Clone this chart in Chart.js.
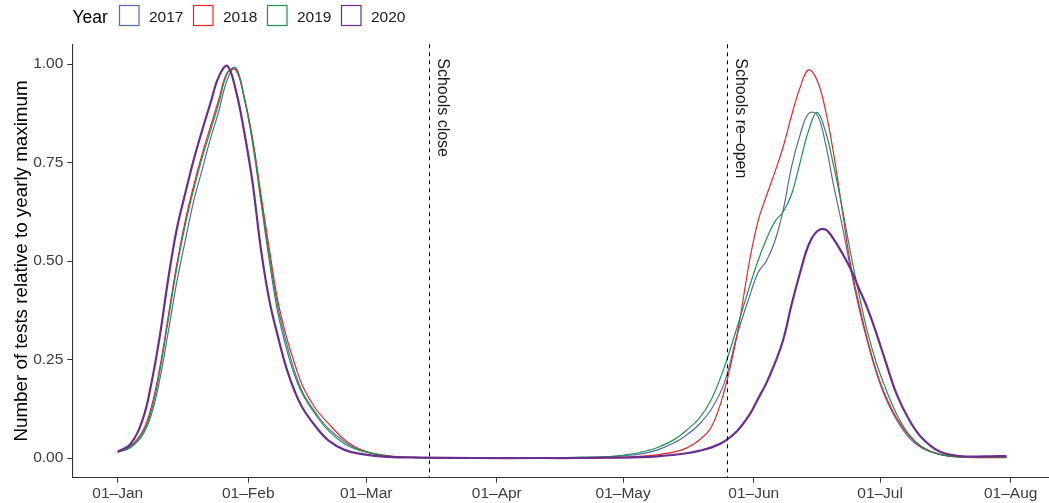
<!DOCTYPE html>
<html>
<head>
<meta charset="utf-8">
<script src="https://cdn.jsdelivr.net/npm/chart.js@4.4.1/dist/chart.umd.min.js"></script>
<style>
  html, body { margin: 0; padding: 0; background: #fff; }
  #wrap { width: 1049px; height: 503px; }
</style>
</head>
<body>
<div id="wrap"><canvas id="densityChart" width="1049" height="503"></canvas></div>
<script>
// days since 01-Jan
const days = [0, 3, 6, 8, 10, 12, 14, 16, 18, 20, 22, 24, 26, 28, 30, 32, 34, 36, 38, 40,
  42, 44, 47, 50, 54, 58, 64, 72, 85, 100, 110, 116, 120, 124, 128, 132, 135, 138, 141, 144,
  147, 150, 152, 154, 156, 158, 160, 162, 164, 166, 168, 170, 172, 174, 176, 178, 180, 182, 185, 188,
  191, 195, 200, 206, 211];

const tests2017 = [0.015, 0.026, 0.06, 0.11, 0.20, 0.32, 0.445, 0.55, 0.65, 0.73, 0.81, 0.88, 0.96, 0.99, 0.92, 0.81, 0.66, 0.515, 0.385, 0.295,
  0.22, 0.165, 0.115, 0.075, 0.04, 0.018, 0.005, 0.001, 0, 0, 0.001, 0.003, 0.006, 0.01, 0.02, 0.038, 0.058, 0.085, 0.125, 0.19,
  0.31, 0.41, 0.47, 0.50, 0.55, 0.63, 0.74, 0.82, 0.874, 0.872, 0.80, 0.69, 0.59, 0.48, 0.38, 0.295, 0.22, 0.16, 0.095, 0.05,
  0.025, 0.009, 0.003, 0.003, 0.004];

const tests2018 = [0.016, 0.03, 0.07, 0.13, 0.23, 0.36, 0.49, 0.60, 0.69, 0.77, 0.84, 0.91, 0.978, 0.985, 0.915, 0.81, 0.67, 0.53, 0.40, 0.31,
  0.24, 0.18, 0.125, 0.088, 0.045, 0.02, 0.006, 0.001, 0, 0, 0, 0.001, 0.002, 0.004, 0.008, 0.015, 0.025, 0.045, 0.08, 0.17,
  0.31, 0.50, 0.60, 0.665, 0.725, 0.79, 0.87, 0.94, 0.985, 0.96, 0.885, 0.77, 0.63, 0.49, 0.39, 0.30, 0.225, 0.165, 0.10, 0.055,
  0.027, 0.01, 0.002, 0.001, 0.001];

const tests2019 = [0.015, 0.028, 0.065, 0.12, 0.22, 0.35, 0.48, 0.59, 0.68, 0.76, 0.83, 0.90, 0.975, 0.99, 0.915, 0.80, 0.65, 0.50, 0.37, 0.28,
  0.21, 0.16, 0.11, 0.07, 0.035, 0.018, 0.005, 0.001, 0, 0, 0.002, 0.003, 0.007, 0.014, 0.026, 0.046, 0.07, 0.10, 0.15, 0.23,
  0.33, 0.435, 0.50, 0.555, 0.60, 0.625, 0.67, 0.75, 0.83, 0.877, 0.83, 0.74, 0.635, 0.52, 0.415, 0.32, 0.245, 0.185, 0.11, 0.058,
  0.028, 0.01, 0.003, 0.002, 0.002];

const tests2020 = [0.016, 0.035, 0.10, 0.19, 0.31, 0.455, 0.58, 0.67, 0.755, 0.83, 0.90, 0.968, 0.995, 0.935, 0.83, 0.70, 0.53, 0.40, 0.31, 0.23,
  0.17, 0.125, 0.08, 0.045, 0.02, 0.01, 0.003, 0.001, 0, 0, 0, 0.001, 0.001, 0.002, 0.004, 0.008, 0.012, 0.018, 0.027, 0.042,
  0.068, 0.11, 0.15, 0.19, 0.24, 0.30, 0.39, 0.47, 0.54, 0.575, 0.58, 0.555, 0.52, 0.48, 0.43, 0.38, 0.32, 0.255, 0.16, 0.095,
  0.05, 0.017, 0.005, 0.004, 0.005];

const years = ['2017', '2018', '2019', '2020'];
const series = [tests2017, tests2018, tests2019, tests2020];

const monthDays = [0, 31, 59, 90, 120, 151, 181, 212];
const monthLabels = ['01–Jan', '01–Feb', '01–Mar', '01–Apr', '01–May', '01–Jun', '01–Jul', '01–Aug'];
const yTicks = [0, 0.25, 0.5, 0.75, 1];

const eventDays = [73.8, 144.6];
const eventLabels = ['Schools close', 'Schools re–open'];

// styles
const colors = ['#5567B1', '#EE2222', '#1B9452', '#6B2D8F'];
const widths = [1.2, 1.2, 1.2, 2.2];
const FONT = "'Liberation Sans', Arial, Helvetica, sans-serif";

// vertical dashed lines with rotated labels
const eventsPlugin = {
  id: 'events',
  afterDatasetsDraw(chart) {
    const { ctx, chartArea, scales } = chart;
    ctx.save();
    eventDays.forEach(function (d, i) {
      const x = Math.round(scales.x.getPixelForValue(d)) + 0.5;
      ctx.beginPath();
      ctx.setLineDash([4, 4]);
      ctx.lineWidth = 1;
      ctx.strokeStyle = '#000';
      ctx.moveTo(x, chartArea.top);
      ctx.lineTo(x, chartArea.bottom);
      ctx.stroke();
      ctx.setLineDash([]);
      ctx.save();
      ctx.translate(x + 8.5, chartArea.top + 14);
      ctx.rotate(Math.PI / 2);
      ctx.font = '16px ' + FONT;
      ctx.fillStyle = '#1a1a1a';
      ctx.textAlign = 'left';
      ctx.textBaseline = 'alphabetic';
      ctx.fillText(eventLabels[i], 0, 0);
      ctx.restore();
    });
    ctx.restore();
  }
};

// ggplot-like legend on top: "Year" then outlined boxes
const legendPlugin = {
  id: 'yearLegend',
  afterDraw(chart) {
    const ctx = chart.ctx;
    ctx.save();
    ctx.textBaseline = 'alphabetic';
    ctx.fillStyle = '#000';
    ctx.font = '17.5px ' + FONT;
    ctx.fillText('Year', 72.5, 22.7);
    ctx.font = '15.5px ' + FONT;
    years.forEach(function (y, i) {
      const bx = 119.5 + i * 74;
      ctx.strokeStyle = colors[i];
      ctx.lineWidth = 1.2;
      ctx.strokeRect(bx, 5.5, 19.5, 20);
      ctx.fillStyle = '#1a1a1a';
      ctx.fillText(y, bx + 29.5, 22);
    });
    ctx.restore();
  }
};

window.onload = function () {
  if (typeof Chart === 'undefined') {
    console.error('Chart.js not loaded');
    return;
  }
  Chart.defaults.font.family = FONT;
  Chart.defaults.color = '#3d3d3d';

  const ctx = document.getElementById('densityChart');

  const datasets = years.map(function (y, i) {
    return {
      label: y,
      data: days.map(function (d, j) { return { x: d, y: series[i][j] }; }),
      borderColor: colors[i],
      backgroundColor: colors[i],
      borderWidth: widths[i],
      pointRadius: 0,
      fill: false,
      tension: 0.4,
      order: years.length - 1 - i
    };
  });

  new Chart(ctx, {
    type: 'line',
    data: { datasets: datasets },
    plugins: [eventsPlugin, legendPlugin],
    options: {
      responsive: false,
      animation: false,
      events: [],
      layout: { padding: { top: 44.3, right: 0, bottom: 0, left: 0 } },
      plugins: {
        legend: { display: false },
        tooltip: { enabled: false }
      },
      scales: {
        x: {
          type: 'linear',
          min: -10.78,
          max: 221.1,
          afterBuildTicks: function (scale) {
            scale.ticks = monthDays.map(function (v) { return { value: v }; });
          },
          afterFit: function (scale) { scale.height = 25.3; },
          ticks: {
            autoSkip: false,
            maxRotation: 0,
            padding: 2,
            color: '#3d3d3d',
            font: { size: 15.5 },
            callback: function (value) {
              const k = monthDays.indexOf(value);
              return k >= 0 ? monthLabels[k] : '';
            }
          },
          grid: { drawOnChartArea: false, drawTicks: true, tickLength: 5, color: '#333' },
          border: { display: true, color: '#333', width: 1.1 }
        },
        y: {
          type: 'linear',
          min: -0.05,
          max: 1.05,
          afterBuildTicks: function (scale) {
            scale.ticks = yTicks.map(function (v) { return { value: v }; });
          },
          afterFit: function (scale) { scale.width = 72.3; },
          ticks: {
            padding: 4,
            color: '#3d3d3d',
            font: { size: 15.5 },
            callback: function (value) { return Number(value).toFixed(2); }
          },
          grid: { drawOnChartArea: false, drawTicks: true, tickLength: 5, color: '#333' },
          border: { display: true, color: '#333', width: 1.1 },
          title: {
            display: true,
            text: 'Number of tests relative to yearly maximum',
            color: '#000',
            font: { size: 18.8 },
            padding: { top: 10.5, bottom: 0 }
          }
        }
      }
    }
  });
};
</script>
</body>
</html>
